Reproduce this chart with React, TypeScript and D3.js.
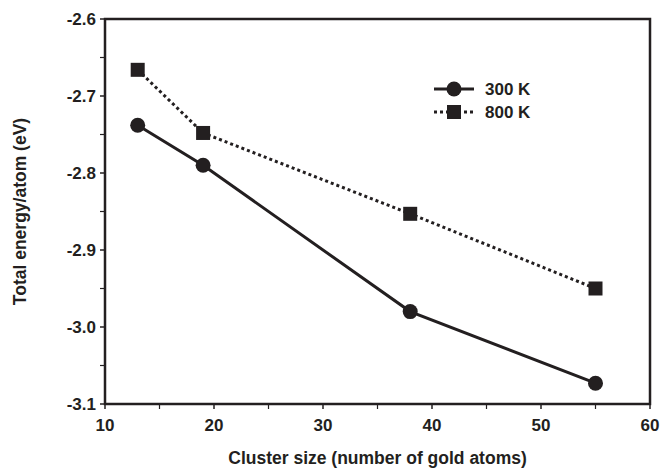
import React from 'react';
import * as d3 from 'd3';

const clusterSizes = [13, 19, 38, 55];
const energy300K = [-2.738, -2.79, -2.98, -3.073];
const energy800K = [-2.666, -2.748, -2.853, -2.95];
const xTicks = [10, 20, 30, 40, 50, 60];
const yTicks = [-2.6, -2.7, -2.8, -2.9, -3.0, -3.1];
const seriesNames = ['300 K', '800 K'];

const W = 662;
const H = 470;
const margin = { left: 105, right: 12, top: 19, bottom: 66 };
const ink = '#231f20';
const font = '"Liberation Sans", Arial, sans-serif';

const App = () => {
  const x = d3.scaleLinear().domain([10, 60]).range([margin.left, W - margin.right]);
  const y = d3.scaleLinear().domain([-3.1, -2.6]).range([H - margin.bottom, margin.top]);
  const line = d3.line<number>().x((d, i) => x(clusterSizes[i])).y(d => y(d));

  const minorX = d3.range(15, 60, 10);
  const minorY = d3.range(-3.05, -2.6, 0.1);

  const bottom = y(-3.1);
  const left = x(10);

  return (
    <svg width={W} height={H} style={{ position: 'absolute', left: 0, top: 0 }} fontFamily={font}>
      <rect x={0} y={0} width={W} height={H} fill="#fff" />
      {/* frame */}
      <rect x={left} y={y(-2.6)} width={x(60) - left} height={bottom - y(-2.6)}
        fill="none" stroke={ink} strokeWidth={2.5} />

      {/* x ticks */}
      {xTicks.map(t => (
        <g key={'x' + t}>
          <line x1={x(t)} x2={x(t)} y1={bottom} y2={bottom + 5} stroke={ink} strokeWidth={1.5} />
          <text x={x(t)} y={bottom + 27} textAnchor="middle" fontSize={17} fontWeight="bold" fill={ink}>{t}</text>
        </g>
      ))}
      {minorX.map(t => (
        <line key={'mx' + t} x1={x(t)} x2={x(t)} y1={bottom} y2={bottom + 5} stroke={ink} strokeWidth={1.2} />
      ))}

      {/* y ticks */}
      {yTicks.map(t => (
        <g key={'y' + t}>
          <line x1={left - 5} x2={left} y1={y(t)} y2={y(t)} stroke={ink} strokeWidth={1.5} />
          <text x={left - 9} y={y(t) + 6} textAnchor="end" fontSize={17} fontWeight="bold" fill={ink}>{t.toFixed(1)}</text>
        </g>
      ))}
      {minorY.map(t => (
        <line key={'my' + t} x1={left - 5} x2={left} y1={y(t)} y2={y(t)} stroke={ink} strokeWidth={1.2} />
      ))}

      {/* axis titles */}
      <text x={(left + x(60)) / 2} y={464} textAnchor="middle" fontSize={17.5} fontWeight="bold" fill={ink}>
        Cluster size (number of gold atoms)
      </text>
      <text transform={`translate(26,${(y(-2.6) + bottom) / 2}) rotate(-90)`} textAnchor="middle"
        fontSize={17.5} fontWeight="bold" fill={ink}>
        Total energy/atom (eV)
      </text>

      {/* series */}
      <path d={line(energy800K) || ''} fill="none" stroke={ink} strokeWidth={3} strokeDasharray="3,3" />
      <path d={line(energy300K) || ''} fill="none" stroke={ink} strokeWidth={3} />
      {energy800K.map((v, i) => (
        <rect key={'s' + i} x={x(clusterSizes[i]) - 7} y={y(v) - 7} width={14} height={14} fill={ink} />
      ))}
      {energy300K.map((v, i) => (
        <circle key={'c' + i} cx={x(clusterSizes[i])} cy={y(v)} r={7.5} fill={ink} />
      ))}

      {/* legend */}
      <g>
        <line x1={434} x2={474} y1={89} y2={89} stroke={ink} strokeWidth={3} />
        <circle cx={454} cy={89} r={7.5} fill={ink} />
        <text x={485} y={95} fontSize={17} fontWeight="bold" fill={ink}>{seriesNames[0]}</text>
        <line x1={434} x2={474} y1={112} y2={112} stroke={ink} strokeWidth={3} strokeDasharray="3,3" />
        <rect x={447} y={105} width={14} height={14} fill={ink} />
        <text x={485} y={118} fontSize={17} fontWeight="bold" fill={ink}>{seriesNames[1]}</text>
      </g>
    </svg>
  );
};

export default App;
